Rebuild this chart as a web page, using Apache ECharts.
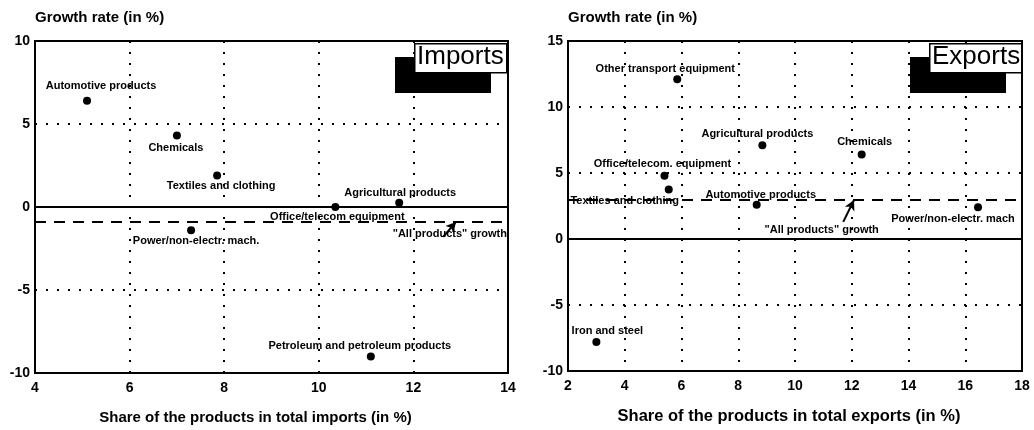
<!DOCTYPE html>
<html>
<head>
<meta charset="utf-8">
<script src="https://cdn.jsdelivr.net/npm/echarts@6/dist/echarts.min.js"></script>
<style>
html, body { margin: 0; padding: 0; background: #fff; }
#main { width: 1034px; height: 430px; }
</style>
</head>
<body>
<div id="main"></div>
<script>
var myChart = echarts.init(document.getElementById('main'));

// imports: share in total imports (%) and growth rate (%)
var importNames = ['Automotive products', 'Chemicals', 'Textiles and clothing', 'Office/telecom equipment',
    'Agricultural products', 'Power/non-electr. mach.', 'Petroleum and petroleum products'];
var importShare = [5.1, 7.0, 7.85, 10.35, 11.7, 7.3, 11.1];
var importGrowth = [6.4, 4.3, 1.9, 0.0, 0.25, -1.4, -9.0];

// exports
var exportNames = ['Other transport equipment', 'Agricultural products', 'Chemicals', 'Office/telecom. equipment',
    'Textiles and clothing', 'Automotive products', 'Power/non-electr. mach', 'Iron and steel'];
var exportShare = [5.85, 8.85, 12.35, 5.4, 5.55, 8.65, 16.45, 3.0];
var exportGrowth = [12.1, 7.1, 6.4, 4.8, 3.75, 2.6, 2.4, -7.8];

// "All products" growth (imports, exports)
var allProductsGrowth = [-0.9, 3.0];
var allProductsLabel = '"All products" growth';

// label offsets (px) round each point, keyed by name
var importLabelOffset = {
    'Automotive products': [14, -15],
    'Chemicals': [-1, 12],
    'Textiles and clothing': [4, 11],
    'Office/telecom equipment': [2, 10],
    'Agricultural products': [1, -10],
    'Power/non-electr. mach.': [5, 11],
    'Petroleum and petroleum products': [-11, -10]
};
var exportLabelOffset = {
    'Other transport equipment': [-12, -10],
    'Agricultural products': [-5, -11],
    'Chemicals': [3, -13],
    'Office/telecom. equipment': [-2, -12],
    'Textiles and clothing': [-44, 11],
    'Automotive products': [4, -10],
    'Power/non-electr. mach': [-25, 12],
    'Iron and steel': [11, -11]
};

var font = 'Liberation Sans, Arial, sans-serif';

function buildPoints(names, xs, ys, offsets) {
    var arr = [];
    for (var i = 0; i < names.length; i++) {
        arr.push({
            name: names[i],
            value: [xs[i], ys[i]],
            label: { offset: offsets[names[i]] }
        });
    }
    return arr;
}

function xAxisOf(idx, min, max, name, shift, size) {
    return {
        gridIndex: idx, type: 'value', min: min, max: max, interval: 2,
        name: name, nameLocation: 'middle', nameGap: 37,
        nameTextStyle: { color: '#000', fontFamily: font, fontWeight: 'bold', fontSize: size, padding: [0, shift, 0, 0] },
        axisLine: { show: false }, axisTick: { show: false },
        axisLabel: { color: '#000', fontFamily: font, fontWeight: 'bold', fontSize: 14, margin: 8 },
        splitLine: { show: true, lineStyle: { color: '#000', width: 2, type: [2, 9] } }
    };
}
function yAxisOf(idx, min, max) {
    return {
        gridIndex: idx, type: 'value', min: min, max: max, interval: 5,
        name: 'Growth rate (in %)', nameLocation: 'end', nameGap: 16,
        nameTextStyle: { color: '#000', fontFamily: font, fontWeight: 'bold', fontSize: 15, align: 'left' },
        axisLine: { show: false }, axisTick: { show: false },
        axisLabel: { color: '#000', fontFamily: font, fontWeight: 'bold', fontSize: 14, margin: 5 },
        splitLine: { show: true, lineStyle: { color: '#000', width: 2, type: [2, 9] } }
    };
}

var labelStyle = {
    show: true, position: 'inside', color: '#000', opacity: 1,
    fontFamily: font, fontWeight: 'bold', fontSize: 11, textBorderWidth: 0
};

function pointSeries(idx, data) {
    return {
        type: 'scatter', xAxisIndex: idx, yAxisIndex: idx,
        symbol: 'circle', symbolSize: 8,
        itemStyle: { color: '#000', opacity: 1 },
        label: echarts.util.extend({ formatter: '{b}' }, labelStyle),
        data: data,
        z: 5
    };
}

function lineSeries(idx, growth, arrowFrom, arrowTo, notePos) {
    return {
        type: 'scatter', xAxisIndex: idx, yAxisIndex: idx,
        symbolSize: 0,
        itemStyle: { opacity: 1 },
        label: echarts.util.extend({ formatter: allProductsLabel }, labelStyle),
        data: [{ name: 'note', value: notePos }],
        markLine: {
            silent: true, animation: false,
            symbol: ['none', 'none'],
            label: { show: false },
            data: [
                { yAxis: 0, lineStyle: { type: 'solid', width: 2, color: '#000' } },
                { yAxis: growth, lineStyle: { type: [11, 8], width: 2, color: '#000' } },
                [
                    { coord: arrowFrom, symbol: 'none', lineStyle: { type: 'solid', width: 2, color: '#000' } },
                    { coord: arrowTo, symbol: 'arrow', symbolSize: [8, 10] }
                ]
            ]
        }
    };
}

function boxGraphic(boxLeft, top, text) {
    return [
        { type: 'rect', left: boxLeft - 19, top: top + 14, shape: { width: 96, height: 36 }, style: { fill: '#000' }, z: 10 },
        { type: 'rect', left: boxLeft, top: top, shape: { width: 92, height: 29 }, style: { fill: '#fff', stroke: '#000', lineWidth: 1.5 }, z: 11 },
        { type: 'text', left: boxLeft + 3, top: top + 1, style: { text: text, font: '26px ' + font, fill: '#000' }, z: 12 }
    ];
}

var option = {
    backgroundColor: '#fff',
    animation: false,
    grid: [
        { left: 35, right: 526, top: 41, bottom: 57, show: true, borderColor: '#000', borderWidth: 2, backgroundColor: 'transparent' },
        { left: 568, right: 12, top: 41, bottom: 56, show: true, borderColor: '#000', borderWidth: 2, backgroundColor: 'transparent' }
    ],
    xAxis: [
        xAxisOf(0, 4, 14, 'Share of the products in total imports (in %)', 32, 15),
        xAxisOf(1, 2, 18, 'Share of the products in total exports (in %)', 12, 16.5)
    ],
    yAxis: [
        yAxisOf(0, -10, 10),
        yAxisOf(1, -10, 15)
    ],
    graphic: boxGraphic(414, 43, 'Imports').concat(boxGraphic(929, 43, 'Exports')),
    series: [
        lineSeries(0, allProductsGrowth[0], [12.63, -1.8], [12.9, -0.9], [12.77, -1.63]),
        pointSeries(0, buildPoints(importNames, importShare, importGrowth, importLabelOffset)),
        lineSeries(1, allProductsGrowth[1], [11.7, 1.3], [12.08, 2.95], [10.94, 0.7]),
        pointSeries(1, buildPoints(exportNames, exportShare, exportGrowth, exportLabelOffset))
    ]
};

myChart.setOption(option);
</script>
</body>
</html>
